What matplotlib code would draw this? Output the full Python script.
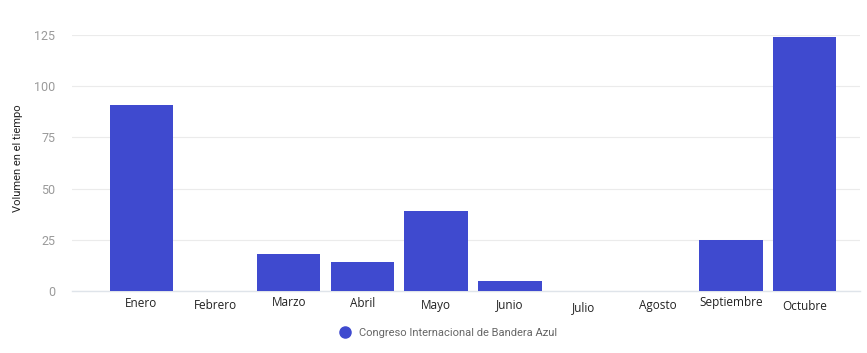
import matplotlib.pyplot as plt
from matplotlib.lines import Line2D
import matplotlib.transforms as mtransforms

months = ['Enero', 'Febrero', 'Marzo', 'Abril', 'Mayo', 'Junio',
          'Julio', 'Agosto', 'Septiembre', 'Octubre']
volumen = [91, 0, 18, 14, 39, 5, 0, 0, 25, 124]
series_name = 'Congreso Internacional de Bandera Azul'
y_ticks = [0, 25, 50, 75, 100, 125]

bar_color = '#3f4acf'
grid_color = '#ebebeb'
tick_grey = '#9a9a9a'
text_dark = '#222222'

plt.rcParams['font.family'] = ['Open Sans', 'DejaVu Sans']

fig = plt.figure(figsize=(8.67, 3.53), dpi=100)
ax = fig.add_axes([0.083, 0.176, 0.909, 0.725])

x = list(range(len(months)))
ax.bar(x, volumen, width=0.86, color=bar_color, zorder=3)

ax.set_xlim(-0.94, 9.75)
ax.set_ylim(0, 125)
ax.set_yticks(y_ticks)
ax.set_yticklabels([str(t) for t in y_ticks], fontfamily='Roboto',
                   fontsize=9, color=tick_grey)
ax.tick_params(axis='y', length=0, pad=12)
ax.grid(axis='y', color=grid_color, linewidth=0.8, zorder=0)
ax.grid(axis='x', visible=False)
for s in ['top', 'right', 'left']:
    ax.spines[s].set_visible(False)
ax.spines['bottom'].set_color('#dfe4ea')
ax.spines['bottom'].set_linewidth(1.0)

# month labels sit slightly uneven in the original
ax.set_xticks(x)
ax.set_xticklabels([])
ax.tick_params(axis='x', length=0)
label_drop = [0, 2, -1, 0, 2, 1, 4, 2, -1, 3]
for i, name in enumerate(months):
    tr = ax.get_xaxis_transform() + mtransforms.ScaledTranslation(
        0, -(13 + label_drop[i]) / 100, fig.dpi_scale_trans)
    ax.text(i, 0, name, transform=tr, ha='center', va='center',
            fontsize=8.5, color=text_dark)

ax.set_ylabel('Volumen en el tiempo', fontfamily='Roboto', fontsize=8,
              color=text_dark)
ax.yaxis.set_label_coords(-0.062, 0.52)

handle = Line2D([], [], marker='o', linestyle='none', markersize=8,
                color=bar_color)
leg = fig.legend([handle], [series_name], loc='center',
                 bbox_to_anchor=(0.514, 0.057), frameon=False,
                 handletextpad=0.2, prop={'family': 'Roboto', 'size': 8})
for t in leg.get_texts():
    t.set_color('#666666')

plt.savefig('out.png', dpi=100)
